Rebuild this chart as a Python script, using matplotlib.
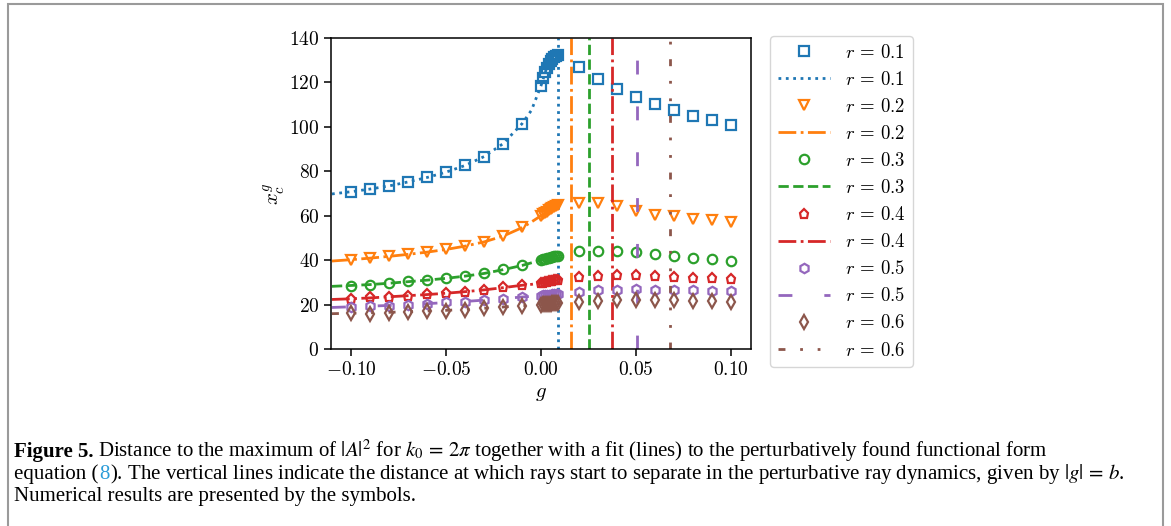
import matplotlib
matplotlib.use("Agg")
import matplotlib.pyplot as plt
from matplotlib.lines import Line2D
from matplotlib.patches import Rectangle
import numpy as np

plt.rcParams['mathtext.fontset'] = 'cm'
plt.rcParams['font.family'] = ['DejaVu Serif']

# ---------------- data ----------------
r_labels = ["0.1", "0.2", "0.3", "0.4", "0.5", "0.6"]

g_left = [-0.10, -0.09, -0.08, -0.07, -0.06, -0.05, -0.04, -0.03, -0.02, -0.01]
g_dense = [0.000, 0.001, 0.002, 0.003, 0.004, 0.005, 0.006, 0.007, 0.008, 0.009]
g_right = [0.02, 0.03, 0.04, 0.05, 0.06, 0.07, 0.08, 0.09, 0.10]

x_r01 = [70.8, 72.0, 73.5, 75.3, 77.3, 79.7, 82.7, 86.6, 92.3, 101.4,
         118.5, 121.8, 124.5, 126.6, 128.3, 129.6, 130.6, 131.4, 132.0, 132.4,
         126.8, 121.6, 117.2, 113.6, 110.4, 107.6, 105.0, 103.0, 100.9]
x_r02 = [40.1, 41.0, 41.8, 42.7, 43.6, 44.9, 46.4, 48.3, 50.9, 54.7,
         60.0, 60.6, 61.2, 61.8, 62.4, 63.0, 63.5, 64.0, 64.5, 65.0,
         65.9, 65.6, 64.4, 62.3, 60.5, 59.9, 58.4, 57.9, 57.0]
x_r03 = [28.5, 29.0, 29.6, 30.4, 31.0, 31.9, 32.8, 34.0, 35.8, 37.6,
         40.0, 40.3, 40.6, 40.9, 41.1, 41.3, 41.5, 41.7, 41.9, 42.0,
         44.0, 44.3, 44.1, 43.7, 42.6, 41.7, 41.0, 40.4, 39.8]
x_r04 = [22.5, 23.2, 23.5, 24.0, 24.6, 25.1, 25.7, 26.6, 27.8, 28.7,
         29.6, 29.8, 30.0, 30.2, 30.4, 30.6, 30.7, 30.9, 31.0, 31.1,
         32.4, 33.0, 33.3, 33.2, 32.7, 32.4, 32.1, 32.0, 31.4]
x_r05 = [19.0, 19.2, 19.5, 19.8, 20.3, 21.0, 21.3, 21.9, 22.6, 23.5,
         24.0, 24.1, 24.2, 24.3, 24.4, 24.5, 24.6, 24.7, 24.8, 24.9,
         25.8, 26.4, 26.7, 26.9, 26.7, 26.6, 26.4, 26.2, 26.1]
x_r06 = [16.1, 15.8, 16.3, 16.7, 17.0, 17.3, 17.6, 18.3, 19.1, 19.5,
         20.0, 20.1, 20.2, 20.3, 20.3, 20.4, 20.5, 20.5, 20.6, 20.6,
         21.0, 21.8, 22.1, 22.1, 21.9, 21.9, 21.8, 21.6, 21.3]

g_fit = [-0.11, -0.10, -0.09, -0.08, -0.07, -0.06, -0.05, -0.04, -0.03, -0.02,
         -0.01, -0.005, -0.0025, 0.0, 0.003, 0.006, 0.009]
fit_r01 = [69.8, 70.8, 72.0, 73.4, 75.2, 77.2, 79.6, 82.6, 86.6, 92.4,
           101.4, 107.5, 113.0, 118.5, 126.6, 130.6, 132.4]
fit_r02 = [39.6, 40.2, 40.9, 41.7, 42.6, 43.6, 44.8, 46.3, 48.2, 50.8,
           54.6, 57.2, 58.6, 60.0, 61.8, 63.5, 65.0]
fit_r03 = [28.2, 28.6, 29.0, 29.6, 30.3, 31.0, 31.8, 32.8, 34.0, 35.7,
           37.6, 38.8, 39.4, 40.0, 40.9, 41.5, 42.0]
fit_r04 = [22.3, 22.6, 23.0, 23.5, 24.0, 24.5, 25.1, 25.8, 26.6, 27.6,
           28.7, 29.1, 29.4, 29.6, 30.2, 30.7, 31.1]
fit_r05 = [18.7, 19.0, 19.3, 19.6, 19.9, 20.4, 20.9, 21.4, 22.0, 22.7,
           23.4, 23.7, 23.9, 24.0, 24.3, 24.6, 24.9]
fit_r06 = [15.9, 16.1, 16.3, 16.5, 16.8, 17.1, 17.4, 17.8, 18.3, 18.9,
           19.5, 19.7, 19.9, 20.0, 20.3, 20.5, 20.6]

b_values = [0.0088, 0.0156, 0.0254, 0.0374, 0.0507, 0.0679]

x_ticks = [-0.10, -0.05, 0.00, 0.05, 0.10]
x_ticklabels = [r"$-0.10$", r"$-0.05$", r"$0.00$", r"$0.05$", r"$0.10$"]
y_ticks = [0, 20, 40, 60, 80, 100, 120, 140]

# ---------------- styles ----------------
colors = ["#1f77b4", "#ff7f0e", "#2ca02c", "#d62728", "#9467bd", "#8c564b"]
markers = ["s", "v", "o", "p", "h", "d"]
linestyles = [(0, (1, 1.65)), (0, (6.4, 1.6, 1, 1.6)), (0, (3.7, 1.6)),
              (0, (6.4, 1.6, 1, 1.6)), (0, (5, 11.5)),
              (0, (2.5, 5.3, 1, 5.3, 1, 5.3))]

W, H = 1171, 526
fig = plt.figure(figsize=(W / 100, H / 100), dpi=100)
ax = fig.add_axes([331 / W, 1 - 349 / H, (751 - 331) / W, (349 - 38) / H])

g_num = g_left + g_dense + g_right
num_series = [x_r01, x_r02, x_r03, x_r04, x_r05, x_r06]
fit_series = [fit_r01, fit_r02, fit_r03, fit_r04, fit_r05, fit_r06]

handles = []
labels = []
lw = 2.0
for i in range(6):
    c = colors[i]
    ax.plot(g_num, num_series[i], linestyle="none", marker=markers[i], ms=6.8,
            mew=1.6, mfc="none", mec=c)
    ax.plot(g_fit, fit_series[i], linestyle=linestyles[i], color=c, lw=lw)
    ax.axvline(b_values[i], linestyle=linestyles[i], color=c, lw=lw)
    handles.append(Line2D([], [], linestyle="none", marker=markers[i], ms=6.8,
                          mew=1.6, mfc="none", mec=c))
    handles.append(Line2D([], [], linestyle=linestyles[i], color=c, lw=lw))
    labels += [r"$r\,=\,%s$" % r_labels[i]] * 2

ax.set_xlim(-0.1105, 0.1105)
ax.set_ylim(0, 140)
ax.set_xticks(x_ticks)
ax.set_xticklabels(x_ticklabels)
ax.set_yticks(y_ticks)
ax.set_yticklabels([r"$%d$" % v for v in y_ticks])
ax.tick_params(labelsize=14, length=5, width=1.1)
for s in ax.spines.values():
    s.set_linewidth(1.1)
ax.set_xlabel(r"$g$", fontsize=15, labelpad=4)
ax.set_ylabel(r"$x_c^g$", fontsize=15, labelpad=1)

leg = fig.legend(handles, labels, loc="upper left",
                 bbox_to_anchor=(770 / W, 1 - 36 / H), borderaxespad=0,
                 fontsize=13.5, handlelength=2.8, labelspacing=0.485,
                 frameon=True)

# outer frame
fig.patches.append(Rectangle((8 / W, -0.05), (1163 - 8) / W, 1.05 - 4 / H,
                             transform=fig.transFigure, fill=False,
                             edgecolor="#9a9a9a", lw=1.5))

# caption
renderer = fig.canvas.get_renderer()
cap_fs = 15.0
base = dict(fontsize=cap_fs, family="Liberation Serif", va="baseline",
            ha="left", math_fontfamily="stix")


def place_line(pieces, x0_px, y_px):
    x = x0_px
    for txt, extra, gap in pieces:
        kw = dict(base)
        kw.update(extra)
        t = fig.text(x / W, 1 - y_px / H, txt, **kw)
        bb = t.get_window_extent(renderer)
        x = bb.x1 + gap


place_line([("Figure 5.", {"weight": "bold"}, 4.5),
            (r"Distance to the maximum of $|A|^2$ for $k_0\,=\,2\pi$ together with a fit (lines) to the perturbatively found functional form", {}, 0)],
           14, 457)
place_line([("equation (", {}, 0.5),
            ("8", {"color": "#2b9cd8"}, 0.5),
            (r"). The vertical lines indicate the distance at which rays start to separate in the perturbative ray dynamics, given by $|g|\,=\,b$.", {}, 0)],
           14, 479)
place_line([("Numerical results are presented by the symbols.", {}, 0)], 14, 501)

fig.savefig("out.png", dpi=100)
